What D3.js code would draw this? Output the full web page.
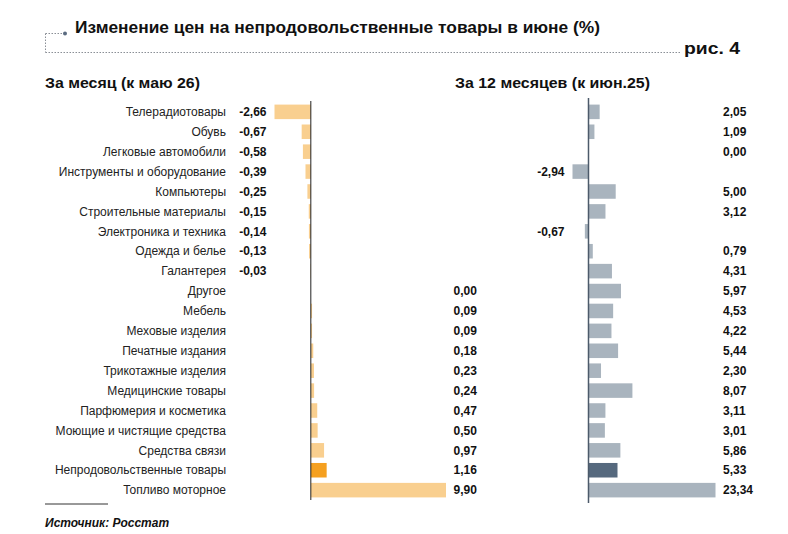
<!DOCTYPE html>
<html lang="ru">
<head>
  <meta charset="UTF-8">
  <title>Изменение цен на непродовольственные товары в июне</title>
  <script src="https://d3js.org/d3.v7.min.js"></script>
  <style>
    body { margin: 0; background: #fff; }
    svg { display: block; font-family: 'Liberation Sans', Arial, sans-serif; }
  </style>
</head>
<body>
<div id="chart"></div>
<script>
// categories (top to bottom)
const categories = [
  "Телерадиотовары", "Обувь", "Легковые автомобили", "Инструменты и оборудование",
  "Компьютеры", "Строительные материалы", "Электроника и техника", "Одежда и белье",
  "Галантерея", "Другое", "Мебель", "Меховые изделия", "Печатные издания",
  "Трикотажные изделия", "Медицинские товары", "Парфюмерия и косметика",
  "Моющие и чистящие средства", "Средства связи", "Непродовольственные товары",
  "Топливо моторное"
];
// за месяц (к маю)
const monthValues = [-2.66, -0.67, -0.58, -0.39, -0.25, -0.15, -0.14, -0.13, -0.03,
  0.00, 0.09, 0.09, 0.18, 0.23, 0.24, 0.47, 0.50, 0.97, 1.16, 9.90];
// за 12 месяцев
const yearValues = [2.05, 1.09, 0.00, -2.94, 5.00, 3.12, -0.67, 0.79, 4.31,
  5.97, 4.53, 4.22, 5.44, 2.30, 8.07, 3.11, 3.01, 5.86, 5.33, 23.34];
const highlight = "Непродовольственные товары";

const W = 788, H = 534;
const svg = d3.select("#chart").append("svg").attr("width", W).attr("height", H);

const fmt = v => v.toFixed(2).replace(".", ",");

// header (the original font runs wider than Arial, so widths are pinned)
function heading(x, y, size, len, txt) {
  svg.append("text").attr("x", x).attr("y", y)
    .attr("font-size", size).attr("font-weight", "bold").attr("fill", "#111")
    .attr("textLength", len).attr("lengthAdjust", "spacingAndGlyphs")
    .text(txt);
}
heading(75, 33, 16.5, 525, "Изменение цен на непродовольственные товары в июне (%)");
heading(684, 53.5, 16.5, 56, "рис. 4");
heading(45, 88, 14.5, 155, "За месяц (к маю 26)");
heading(455, 88, 14.5, 195, "За 12 месяцев (к июн.25)");

function dotted(x1, y1, x2, y2) {
  svg.append("line").attr("x1", x1).attr("y1", y1).attr("x2", x2).attr("y2", y2)
    .attr("stroke", "#8a8f96").attr("stroke-width", 1).attr("stroke-dasharray", "1.5,1.5");
}
dotted(45.5, 33.5, 45.5, 52.5);
dotted(45.5, 33.5, 62, 33.5);
dotted(45.5, 52.5, 680, 52.5);
svg.append("circle").attr("cx", 65).attr("cy", 33.5).attr("r", 2).attr("fill", "#5a6b80");

// scales
const y = d3.scaleBand().domain(categories).range([102, 500]).paddingInner(0.27).paddingOuter(0.13);
const xL = d3.scaleLinear().domain([d3.min(monthValues), d3.max(monthValues)]).range([274.5, 446]);
const xR = d3.scaleLinear().domain([d3.min(yearValues), d3.max(yearValues)]).range([572.5, 715.5]);
const mid = c => y(c) + y.bandwidth() / 2;

// category labels
svg.append("g").selectAll("text").data(categories).join("text")
  .attr("x", 226).attr("y", d => mid(d)).attr("dy", "0.35em")
  .attr("text-anchor", "end").attr("font-size", 12).attr("fill", "#222")
  .text(d => d);

function panel(values, x, col, hiCol, axisCol, axisW, y0, y1) {
  const g = svg.append("g");
  g.selectAll("rect").data(values).join("rect")
    .attr("x", d => x(Math.min(0, d)))
    .attr("width", d => Math.abs(x(d) - x(0)))
    .attr("y", (d, i) => y(categories[i]))
    .attr("height", y.bandwidth())
    .attr("fill", (d, i) => categories[i] === highlight ? hiCol : col);
  g.append("line")
    .attr("x1", x(0)).attr("x2", x(0)).attr("y1", y0).attr("y2", y1)
    .attr("stroke", axisCol).attr("stroke-width", axisW);
  const [lo, hi] = x.range();
  g.selectAll("text").data(values).join("text")
    .attr("x", d => d < 0 ? lo - 8 : hi + 7.5)
    .attr("text-anchor", d => d < 0 ? "end" : "start")
    .attr("y", (d, i) => mid(categories[i])).attr("dy", "0.35em")
    .attr("font-size", 12).attr("font-weight", "bold").attr("fill", "#111")
    .text(d => fmt(d));
}
panel(monthValues, xL, "#f9cf8f", "#f5a020", "#222", 1, 101, 500);
panel(yearValues, xR, "#a9b4be", "#56697e", "#4c5a6a", 1.5, 98, 503);

// footer
svg.append("line").attr("x1", 45).attr("x2", 108).attr("y1", 504).attr("y2", 504)
  .attr("stroke", "#333").attr("stroke-width", 1);
svg.append("text").attr("x", 45).attr("y", 527)
  .attr("font-size", 12).attr("font-weight", "bold").attr("font-style", "italic").attr("fill", "#111")
  .text("Источник: Росстат");
</script>
</body>
</html>
